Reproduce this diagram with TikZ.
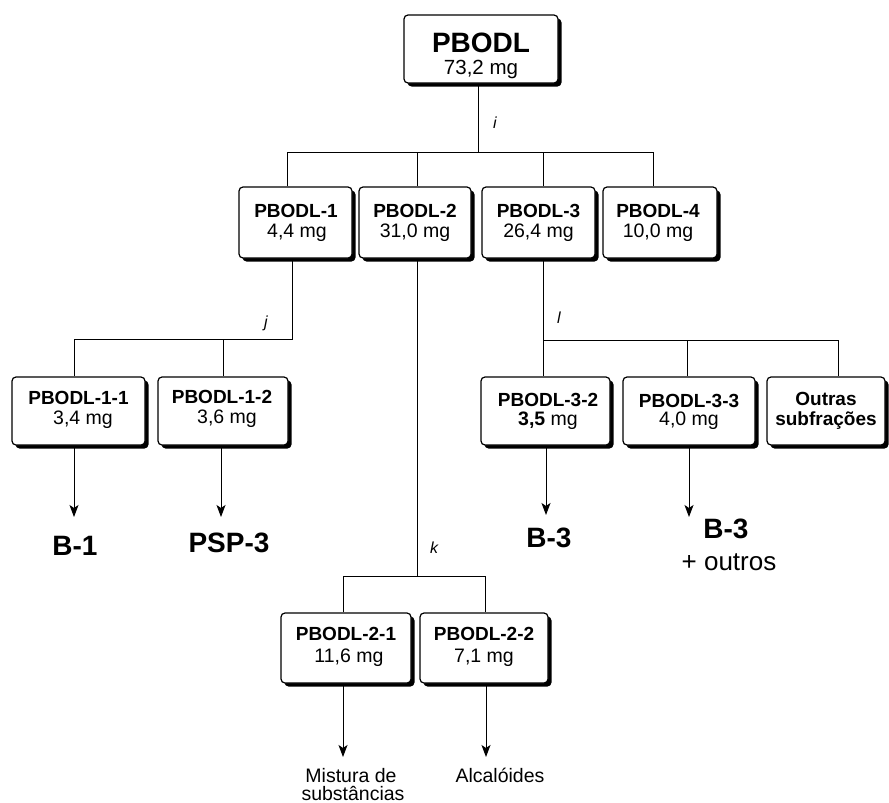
\documentclass[tikz,border=0pt]{standalone}
\usepackage{fontspec}
\setmainfont{Liberation Sans}
\usetikzlibrary{arrows.meta,shadows}
\begin{document}
\begin{tikzpicture}[x=1pt,y=-1pt,
  box/.style={draw, line width=1.2pt, rounded corners=4pt, fill=white, inner sep=0pt,
    drop shadow={shadow xshift=3.5pt, shadow yshift=-3.5pt, fill=black, opacity=1}},
  ln/.style={line width=1pt},
  arr/.style={line width=1pt, -{Stealth[length=12pt, width=9pt, inset=3pt]}},
  nm/.style={anchor=base, inner sep=0pt, font=\bfseries\fontsize{19}{19}\selectfont},
  mg/.style={anchor=base, inner sep=0pt, font=\fontsize{19.5}{19.5}\selectfont},
  big/.style={anchor=base, inner sep=0pt, font=\bfseries\fontsize{28}{28}\selectfont},
  lab/.style={anchor=base, inner sep=0pt, font=\itshape\fontsize{16}{16}\selectfont},
  res/.style={anchor=base, inner sep=0pt, font=\fontsize{19.5}{19.5}\selectfont}]
\useasboundingbox[fill=white] (0,0) rectangle (889,803);

% ---------- boxes ----------
\node[box, minimum width=154pt, minimum height=68pt] (top) at (481,49) {};
\node[box, minimum width=113pt, minimum height=71pt] (b1) at (295.5,222.5) {};
\node[box, minimum width=112pt, minimum height=71pt] (b2) at (415,222.5) {};
\node[box, minimum width=113pt, minimum height=71pt] (b3) at (538.5,222.5) {};
\node[box, minimum width=114pt, minimum height=71pt] (b4) at (660,222.5) {};
\node[box, minimum width=133pt, minimum height=68pt] (c11) at (78.5,411) {};
\node[box, minimum width=130pt, minimum height=68pt] (c12) at (223,411) {};
\node[box, minimum width=129pt, minimum height=68pt] (c32) at (545.5,411) {};
\node[box, minimum width=132pt, minimum height=68pt] (c33) at (689,411) {};
\node[box, minimum width=118pt, minimum height=68pt] (c3o) at (826,411) {};
\node[box, minimum width=130pt, minimum height=70pt] (c21) at (346,648) {};
\node[box, minimum width=128pt, minimum height=70pt] (c22) at (484,648) {};

% ---------- box texts ----------
\node[big] (topa) at (481,52) {PBODL};
\node[anchor=base, inner sep=0pt, font=\fontsize{20.5}{20.5}\selectfont] (topb) at (481,74) {73,2 mg};
\node[nm] (b1a) at (296,217) {PBODL-1};
\node[mg] (b1b) at (297,237) {4,4 mg};
\node[nm] (b2a) at (415,217) {PBODL-2};
\node[mg] (b2b) at (415,237) {31,0 mg};
\node[nm] (b3a) at (538.5,217) {PBODL-3};
\node[mg] (b3b) at (538.5,237) {26,4 mg};
\node[nm] (b4a) at (658,217) {PBODL-4};
\node[mg] (b4b) at (658,237) {10,0 mg};
\node[nm] (c11a) at (78.5,404) {PBODL-1-1};
\node[mg] (c11b) at (83,424) {3,4 mg};
\node[nm] (c12a) at (222,403) {PBODL-1-2};
\node[mg] (c12b) at (227,423) {3,6 mg};
\node[nm] (c32a) at (548,406) {PBODL-3-2};
\node[mg] (c32b) at (548,425) {\textbf{3,5} mg};
\node[nm] (c33a) at (689,407) {PBODL-3-3};
\node[mg] (c33b) at (689,425) {4,0 mg};
\node[nm] (c3oa) at (826,405) {Outras};
\node[nm] (c3ob) at (826,425) {subfrações};
\node[nm] (c21a) at (346,640) {PBODL-2-1};
\node[mg] (c21b) at (349,662) {11,6 mg};
\node[nm] (c22a) at (484,640) {PBODL-2-2};
\node[mg] (c22b) at (484,662) {7,1 mg};

% ---------- junction coordinates ----------
\coordinate (ji) at (478,152);
\coordinate (ji1) at (287,152);
\coordinate (ji2) at (417,152);
\coordinate (ji3) at (543,152);
\coordinate (ji4) at (653,152);
\coordinate (jj) at (292,339);
\coordinate (jj1) at (74,339);
\coordinate (jj2) at (223,339);
\coordinate (jk) at (417,576);
\coordinate (jk1) at (343,576);
\coordinate (jk2) at (485,576);
\coordinate (jl) at (543,340);
\coordinate (jl2) at (687,340);
\coordinate (jl3) at (838,340);

% ---------- connectors ----------
\draw[ln] (top.south -| ji) -- (ji);
\draw[ln] (b1.north -| ji1) -- (ji1) -- (ji4) -- (b4.north -| ji4);
\draw[ln] (ji2) -- (b2.north -| ji2);
\draw[ln] (ji3) -- (b3.north -| ji3);

\draw[ln] (b1.south -| jj) -- (jj) -- (jj1) -- (c11.north -| jj1);
\draw[ln] (jj2) -- (c12.north -| jj2);

\draw[ln] (b2.south -| jk) -- (jk);
\draw[ln] (c21.north -| jk1) -- (jk1) -- (jk2) -- (c22.north -| jk2);

\draw[ln] (b3.south -| jl) -- (c32.north -| jl);
\draw[ln] (jl) -- (jl3) -- (c3o.north -| jl3);
\draw[ln] (jl2) -- (c33.north -| jl2);

% step labels
\node[lab] (li) at (495,128) {i};
\node[lab] (lj) at (266,327) {j};
\node[lab] (lk) at (434,553) {k};
\node[lab] (ll) at (559,323) {l};

% ---------- result arrows ----------
\coordinate (a11) at (74,517);
\coordinate (a12) at (221,517);
\coordinate (a32) at (546,515);
\coordinate (a33) at (689,517);
\coordinate (a21) at (343,757);
\coordinate (a22) at (486,757);
\draw[arr] (c11.south -| a11) -- (a11);
\draw[arr] (c12.south -| a12) -- (a12);
\draw[arr] (c32.south -| a32) -- (a32);
\draw[arr] (c33.south -| a33) -- (a33);
\draw[arr] (c21.south -| a21) -- (a21);
\draw[arr] (c22.south -| a22) -- (a22);

% ---------- results ----------
\node[big] (r11) at (75,555) {B-1};
\node[big] (r12) at (229,552) {PSP-3};
\node[big] (r32) at (549,547) {B-3};
\node[big] (r33) at (726,538) {B-3};
\node[anchor=base, inner sep=0pt, font=\fontsize{26}{26}\selectfont] (r33b) at (729,570) {+ outros};
\node[res] (r21a) at (351,782) {Mistura de};
\node[res] (r21b) at (353,800) {substâncias};
\node[res] (r22) at (500,782) {Alcalóides};
\end{tikzpicture}
\end{document}
